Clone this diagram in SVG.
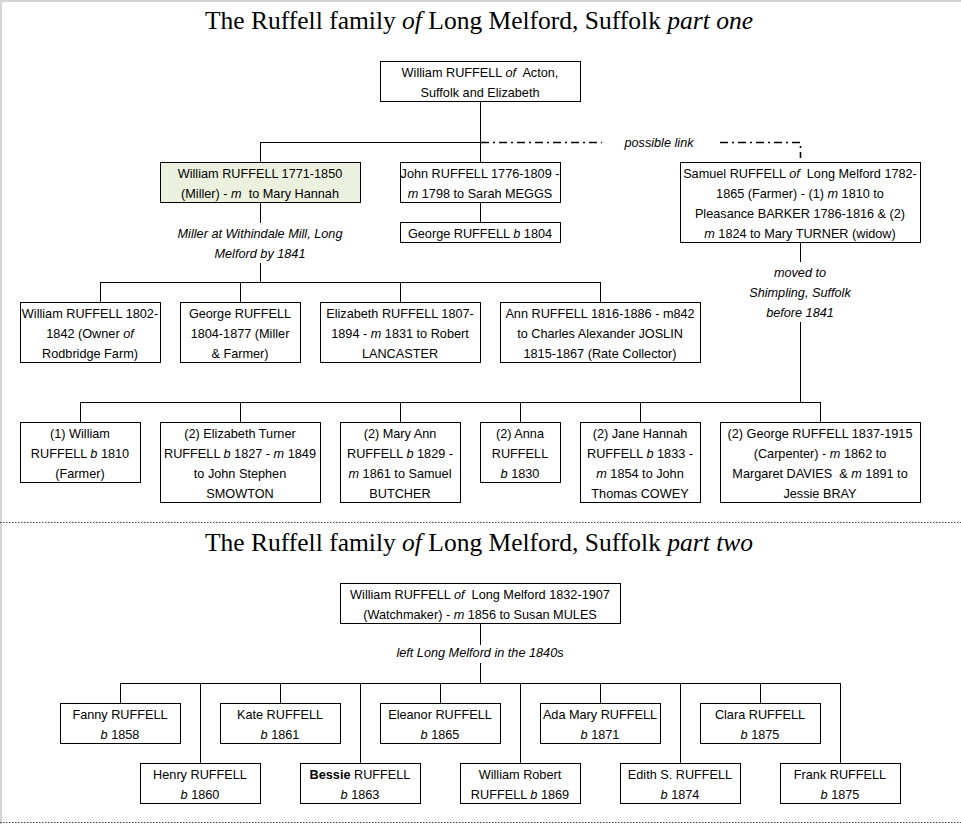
<svg xmlns="http://www.w3.org/2000/svg" width="961" height="824" viewBox="0 0 961 824">
<style>
.box{fill:#fff;stroke:#000;stroke-width:1}
.hl{fill:#EBF1DE}
text{font-family:"Liberation Sans",Arial,sans-serif;font-size:12.7px;fill:#000}
.t{text-anchor:middle}
.i{font-style:italic}
.title{font-family:"Liberation Serif","Times New Roman",serif;font-size:25px;text-anchor:middle}
.con{stroke:#000;stroke-width:1;fill:none}
.dd{stroke:#000;stroke-width:1.6;fill:none;stroke-dasharray:8 4 2 4}
.dot{stroke:#444;stroke-width:1;stroke-dasharray:1.5 1.5}
.frame{stroke:#d4d4d4;stroke-width:2}
</style>
<rect x="0" y="0" width="961" height="824" fill="#fff"/>
<line class="frame" x1="1" y1="0" x2="1" y2="824"/>
<line class="frame" x1="0" y1="1" x2="961" y2="1"/>

<text class="title" x="479" y="29" textLength="548" lengthAdjust="spacingAndGlyphs">The Ruffell family <tspan class="i">of</tspan> Long Melford, Suffolk <tspan class="i">part one</tspan></text>
<text class="title" x="479" y="551" textLength="548" lengthAdjust="spacingAndGlyphs">The Ruffell family <tspan class="i">of</tspan> Long Melford, Suffolk <tspan class="i">part two</tspan></text>

<line class="dot" x1="0" y1="522.5" x2="961" y2="522.5"/>
<line class="dot" x1="0" y1="822.5" x2="961" y2="822.5"/>

<g id="connectors">
<path class="con" d="M480.5 101V162M260.5 142.5H480.5M260.5 142V162"/>
<path class="dd" d="M481 142.5H602M720 142.5H800.5V158"/>
<text class="t i" x="659" y="147">possible link</text>
<path class="con" d="M480.5 202V222"/>
<path class="con" d="M260.5 202V223M260.5 263V282.5M100.5 282.5H600.5M100.5 282V302M240.5 282V302M400.5 282V302M600.5 282V302"/>
<text class="t i" x="260" y="238">Miller at Withindale Mill, Long</text>
<text class="t i" x="260" y="258">Melford by 1841</text>
<path class="con" d="M800.5 242V262M800.5 322V402.5M80.5 402.5H820.5M80.5 402V422M240.5 402V422M400.5 402V422M520.5 402V422M640.5 402V422M820.5 402V422"/>
<text class="t i" x="800" y="277">moved to</text>
<text class="t i" x="800" y="297">Shimpling, Suffolk</text>
<text class="t i" x="800" y="317">before 1841</text>
<path class="con" d="M480.5 623V645M480.5 663V683.5M120.5 683.5H840.5M120.5 683V703M280.5 683V703M440.5 683V703M600.5 683V703M760.5 683V703M200.5 683V763M360.5 683V763M520.5 683V763M680.5 683V763M840.5 683V763"/>
<text class="t i" x="480" y="657">left Long Melford in the 1840s</text>
</g>

<g id="n-root"><rect class="box" x="380.5" y="61.5" width="200" height="40"/>
<text class="t" x="480" y="77">William RUFFELL <tspan class="i">of</tspan>&#160; Acton,</text>
<text class="t" x="480" y="97">Suffolk and Elizabeth</text></g>

<g id="n-william1771"><rect class="box hl" x="160.5" y="162.5" width="200" height="40"/>
<text class="t" x="260" y="178">William RUFFELL 1771-1850</text>
<text class="t" x="260" y="198">(Miller) - <tspan class="i">m</tspan>&#160; to Mary Hannah</text></g>

<g id="n-john"><rect class="box" x="400.5" y="162.5" width="160" height="40"/>
<text class="t" x="480" y="178">John RUFFELL 1776-1809 -</text>
<text class="t" x="480" y="198"><tspan class="i">m</tspan> 1798 to Sarah MEGGS</text></g>

<g id="n-george1804"><rect class="box" x="400.5" y="222.5" width="160" height="20"/>
<text class="t" x="480" y="238">George RUFFELL <tspan class="i">b</tspan> 1804</text></g>

<g id="n-samuel"><rect class="box" x="680.5" y="162.5" width="240" height="80"/>
<text class="t" x="800" y="178">Samuel RUFFELL <tspan class="i">of</tspan>&#160; Long Melford 1782-</text>
<text class="t" x="800" y="198">1865 (Farmer) - (1) <tspan class="i">m</tspan> 1810 to</text>
<text class="t" x="800" y="218">Pleasance BARKER 1786-1816 &amp; (2)</text>
<text class="t" x="800" y="238"><tspan class="i">m</tspan> 1824 to Mary TURNER (widow)</text></g>

<g id="n-william1802"><rect class="box" x="20.5" y="302.5" width="140" height="60"/>
<text class="t" x="90" y="318">William RUFFELL 1802-</text>
<text class="t" x="90" y="338">1842 (Owner <tspan class="i">of</tspan></text>
<text class="t" x="90" y="358">Rodbridge Farm)</text></g>

<g id="n-george1804b"><rect class="box" x="180.5" y="302.5" width="120" height="60"/>
<text class="t" x="240" y="318">George RUFFELL</text>
<text class="t" x="240" y="338">1804-1877 (Miller</text>
<text class="t" x="240" y="358">&amp; Farmer)</text></g>

<g id="n-elizabeth1807"><rect class="box" x="320.5" y="302.5" width="160" height="60"/>
<text class="t" x="400" y="318">Elizabeth RUFFELL 1807-</text>
<text class="t" x="400" y="338">1894 - <tspan class="i">m</tspan> 1831 to Robert</text>
<text class="t" x="400" y="358">LANCASTER</text></g>

<g id="n-ann"><rect class="box" x="500.5" y="302.5" width="200" height="60"/>
<text class="t" x="600" y="318">Ann RUFFELL 1816-1886 - m842</text>
<text class="t" x="600" y="338">to Charles Alexander JOSLIN</text>
<text class="t" x="600" y="358">1815-1867 (Rate Collector)</text></g>

<g id="n-william1810"><rect class="box" x="20.5" y="422.5" width="120" height="60"/>
<text class="t" x="80" y="438">(1) William</text>
<text class="t" x="80" y="458">RUFFELL <tspan class="i">b</tspan> 1810</text>
<text class="t" x="80" y="478">(Farmer)</text></g>

<g id="n-elizabethturner"><rect class="box" x="160.5" y="422.5" width="160" height="80"/>
<text class="t" x="240" y="438">(2) Elizabeth Turner</text>
<text class="t" x="240" y="458">RUFFELL <tspan class="i">b</tspan> 1827 - <tspan class="i">m</tspan> 1849</text>
<text class="t" x="240" y="478">to John Stephen</text>
<text class="t" x="240" y="498">SMOWTON</text></g>

<g id="n-maryann"><rect class="box" x="340.5" y="422.5" width="120" height="80"/>
<text class="t" x="400" y="438">(2) Mary Ann</text>
<text class="t" x="400" y="458">RUFFELL <tspan class="i">b</tspan> 1829 -</text>
<text class="t" x="400" y="478"><tspan class="i">m</tspan> 1861 to Samuel</text>
<text class="t" x="400" y="498">BUTCHER</text></g>

<g id="n-anna"><rect class="box" x="480.5" y="422.5" width="80" height="60"/>
<text class="t" x="520" y="438">(2) Anna</text>
<text class="t" x="520" y="458">RUFFELL</text>
<text class="t" x="520" y="478"><tspan class="i">b</tspan> 1830</text></g>

<g id="n-janehannah"><rect class="box" x="580.5" y="422.5" width="120" height="80"/>
<text class="t" x="640" y="438">(2) Jane Hannah</text>
<text class="t" x="640" y="458">RUFFELL <tspan class="i">b</tspan> 1833 -</text>
<text class="t" x="640" y="478"><tspan class="i">m</tspan> 1854 to John</text>
<text class="t" x="640" y="498">Thomas COWEY</text></g>

<g id="n-george1837"><rect class="box" x="720.5" y="422.5" width="200" height="80"/>
<text class="t" x="820" y="438">(2) George RUFFELL 1837-1915</text>
<text class="t" x="820" y="458">(Carpenter) - <tspan class="i">m</tspan> 1862 to</text>
<text class="t" x="820" y="478">Margaret DAVIES&#160; &amp; <tspan class="i">m</tspan> 1891 to</text>
<text class="t" x="820" y="498">Jessie BRAY</text></g>

<g id="n-william1832"><rect class="box" x="340.5" y="583.5" width="280" height="40"/>
<text class="t" x="480" y="599">William RUFFELL <tspan class="i">of</tspan>&#160; Long Melford 1832-1907</text>
<text class="t" x="480" y="619">(Watchmaker) - <tspan class="i">m</tspan> 1856 to Susan MULES</text></g>

<g id="n-fanny"><rect class="box" x="60.5" y="703.5" width="120" height="40"/>
<text class="t" x="120" y="719">Fanny RUFFELL</text>
<text class="t" x="120" y="739"><tspan class="i">b</tspan> 1858</text></g>

<g id="n-kate"><rect class="box" x="220.5" y="703.5" width="120" height="40"/>
<text class="t" x="280" y="719">Kate RUFFELL</text>
<text class="t" x="280" y="739"><tspan class="i">b</tspan> 1861</text></g>

<g id="n-eleanor"><rect class="box" x="380.5" y="703.5" width="120" height="40"/>
<text class="t" x="440" y="719">Eleanor RUFFELL</text>
<text class="t" x="440" y="739"><tspan class="i">b</tspan> 1865</text></g>

<g id="n-ada"><rect class="box" x="540.5" y="703.5" width="120" height="40"/>
<text class="t" x="600" y="719">Ada Mary RUFFELL</text>
<text class="t" x="600" y="739"><tspan class="i">b</tspan> 1871</text></g>

<g id="n-clara"><rect class="box" x="700.5" y="703.5" width="120" height="40"/>
<text class="t" x="760" y="719">Clara RUFFELL</text>
<text class="t" x="760" y="739"><tspan class="i">b</tspan> 1875</text></g>

<g id="n-henry"><rect class="box" x="140.5" y="763.5" width="120" height="40"/>
<text class="t" x="200" y="779">Henry RUFFELL</text>
<text class="t" x="200" y="799"><tspan class="i">b</tspan> 1860</text></g>

<g id="n-bessie"><rect class="box" x="300.5" y="763.5" width="120" height="40"/>
<text class="t" x="360" y="779"><tspan font-weight="bold">Bessie</tspan> RUFFELL</text>
<text class="t" x="360" y="799"><tspan class="i">b</tspan> 1863</text></g>

<g id="n-williamrobert"><rect class="box" x="460.5" y="763.5" width="120" height="40"/>
<text class="t" x="520" y="779">William Robert</text>
<text class="t" x="520" y="799">RUFFELL <tspan class="i">b</tspan> 1869</text></g>

<g id="n-edith"><rect class="box" x="620.5" y="763.5" width="120" height="40"/>
<text class="t" x="680" y="779">Edith S. RUFFELL</text>
<text class="t" x="680" y="799"><tspan class="i">b</tspan> 1874</text></g>

<g id="n-frank"><rect class="box" x="780.5" y="763.5" width="120" height="40"/>
<text class="t" x="840" y="779">Frank RUFFELL</text>
<text class="t" x="840" y="799"><tspan class="i">b</tspan> 1875</text></g>
</svg>
